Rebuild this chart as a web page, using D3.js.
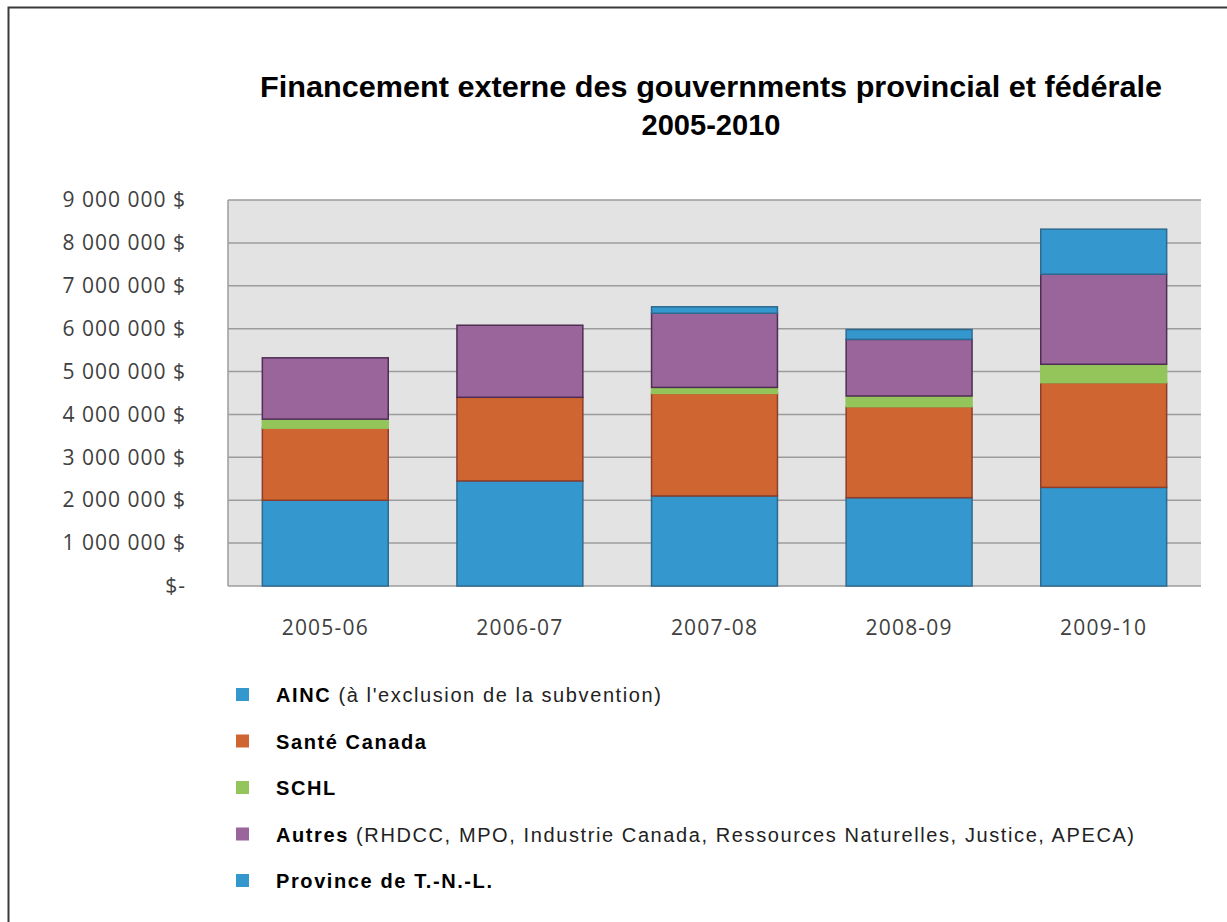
<!doctype html>
<html lang="fr">
<head>
  <meta charset="utf-8">
  <script src="https://d3js.org/d3.v7.min.js"></script>
  <style>
    body { margin: 0; background: #fff; }
  </style>
</head>
<body>
  <script>
    // chart data (values in dollars)
    var years = ["2005-06", "2006-07", "2007-08", "2008-09", "2009-10"];
    var ainc     = [2000000, 2450000, 2100000, 2060000, 2300000];
    var sante    = [1680000, 1950000, 2390000, 2120000, 2440000];
    var schl     = [ 210000,       0,  140000,  250000,  430000];
    var autres   = [1430000, 1680000, 1730000, 1320000, 2100000];
    var province = [      0,       0,  150000,  230000, 1050000];
    var yTicks = [0, 1000000, 2000000, 3000000, 4000000, 5000000, 6000000, 7000000, 8000000, 9000000];

    var seriesKeys = ["ainc", "sante", "schl", "autres", "province"];
    var fills   = { ainc: "#3497cd", sante: "#cf6631", schl: "#93c55b", autres: "#99659b", province: "#3497cd" };
    var strokes = { ainc: "#2e6a90", sante: "#8e3d2c", schl: "#93c55b", autres: "#4f2d55", province: "#2e6a90" };

    // legend entries: bold part + normal part
    var legendBold = ["AINC", "Santé Canada", "SCHL", "Autres", "Province de T.-N.-L."];
    var legendRest = [" (à l'exclusion de la subvention)", "", "", " (RHDCC, MPO, Industrie Canada, Ressources Naturelles, Justice, APECA)", ""];

    var rows = years.map(function(y, i) {
      return { year: y, ainc: ainc[i], sante: sante[i], schl: schl[i], autres: autres[i], province: province[i] };
    });

    var width = 1227, height = 922;
    var svg = d3.select("body").append("svg")
        .attr("width", width)
        .attr("height", height);

    svg.append("rect").attr("width", width).attr("height", height).attr("fill", "#fff");

    // outer frame (right and bottom edges fall outside the picture)
    svg.append("rect")
        .attr("x", 8.5).attr("y", 7.5)
        .attr("width", width + 20).attr("height", height + 20)
        .attr("fill", "none")
        .attr("stroke", "#3a3a3a")
        .attr("stroke-width", 2);

    // title
    var title = svg.append("g")
        .style("font-family", "'Liberation Sans', Arial, sans-serif")
        .style("font-weight", "bold")
        .style("font-size", "29px")
        .attr("fill", "#000");
    title.append("text").attr("x", 711).attr("y", 97)
        .attr("text-anchor", "middle")
        .attr("textLength", 902).attr("lengthAdjust", "spacingAndGlyphs")
        .text("Financement externe des gouvernments provincial et fédérale");
    title.append("text").attr("x", 711).attr("y", 135)
        .attr("text-anchor", "middle")
        .attr("textLength", 139).attr("lengthAdjust", "spacingAndGlyphs")
        .text("2005-2010");

    var x0 = 228, x1 = 1201, yTop = 200, yBottom = 586;

    var x = d3.scaleBand()
        .domain(years)
        .range([x0, x1])
        .paddingInner(0.353)
        .paddingOuter(0.1765);

    var y = d3.scaleLinear()
        .domain([0, 9000000])
        .range([yBottom, yTop]);

    // plot area
    svg.append("rect")
        .attr("x", x0).attr("y", yTop)
        .attr("width", x1 - x0).attr("height", yBottom - yTop)
        .attr("fill", "#e3e3e3");

    svg.append("g").selectAll("line")
        .data(yTicks)
      .enter().append("line")
        .attr("x1", x0).attr("x2", x1)
        .attr("y1", function(d) { return y(d); })
        .attr("y2", function(d) { return y(d); })
        .attr("stroke", "#9c9c9c")
        .attr("stroke-width", 1.5);

    svg.append("line")
        .attr("x1", x0).attr("x2", x0)
        .attr("y1", yTop).attr("y2", yBottom)
        .attr("stroke", "#9c9c9c")
        .attr("stroke-width", 1.5);

    // y axis
    var spaceFmt = d3.formatLocale({ decimal: ",", thousands: " ", grouping: [3], currency: ["", " $"] }).format(",");
    var yAxis = d3.axisLeft(y)
        .tickValues(yTicks)
        .tickSize(0)
        .tickPadding(0)
        .tickFormat(function(d) { return d === 0 ? "$-" : spaceFmt(d) + " $"; });

    var gy = svg.append("g")
        .attr("transform", "translate(186,0)")
        .call(yAxis);
    gy.select(".domain").remove();
    gy.selectAll("text")
        .style("font-family", "'Open Sans', sans-serif")
        .style("font-size", "21px")
        .style("letter-spacing", "1px")
        .attr("fill", "#404040");

    // x axis
    var xAxis = d3.axisBottom(x).tickSize(0).tickPadding(0);
    var gx = svg.append("g")
        .attr("transform", "translate(0,620)")
        .call(xAxis);
    gx.select(".domain").remove();
    gx.selectAll("text")
        .style("font-family", "'Open Sans', sans-serif")
        .style("font-size", "21px")
        .style("letter-spacing", "1.2px")
        .attr("fill", "#404040");

    // stacked bars
    var stacked = d3.stack().keys(seriesKeys)(rows);

    svg.append("g").selectAll("g")
        .data(stacked)
      .enter().append("g")
        .attr("fill", function(s) { return fills[s.key]; })
        .attr("stroke", function(s) { return strokes[s.key]; })
        .attr("stroke-width", 1.5)
      .selectAll("rect")
        .data(function(s) { return s.filter(function(d) { return d[1] - d[0] > 0; }); })
      .enter().append("rect")
        .attr("x", function(d) { return x(d.data.year); })
        .attr("width", x.bandwidth())
        .attr("y", function(d) { return y(d[1]); })
        .attr("height", function(d) { return y(d[0]) - y(d[1]); });

    // legend
    var legend = svg.append("g")
        .style("font-family", "'Liberation Sans', Arial, sans-serif")
        .style("font-size", "20px")
        .style("letter-spacing", "1.6px");

    var item = legend.selectAll("g")
        .data(legendBold)
      .enter().append("g")
        .attr("transform", function(d, i) { return "translate(0," + (695 + i * 46.5) + ")"; });

    item.append("rect")
        .attr("x", 236).attr("y", -7)
        .attr("width", 13).attr("height", 13)
        .attr("fill", function(d, i) { return fills[seriesKeys[i]]; });

    var t = item.append("text")
        .attr("x", 276).attr("y", 7)
        .attr("fill", "#000");
    t.append("tspan").style("font-weight", "bold").text(function(d) { return d; });
    t.append("tspan").attr("fill", "#222").text(function(d, i) { return legendRest[i]; });
  </script>
</body>
</html>
